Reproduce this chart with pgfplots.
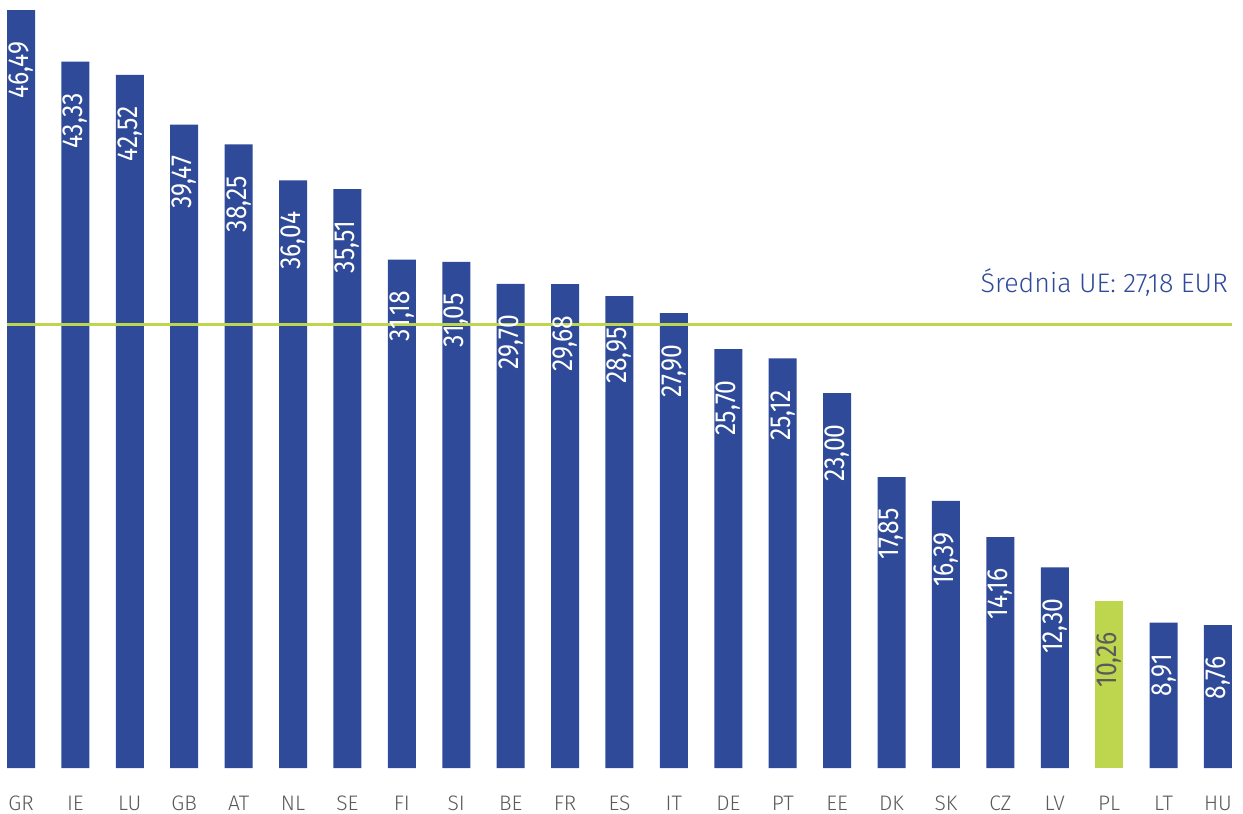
\documentclass[border=0pt]{standalone}
\usepackage{graphicx}
\usepackage{pgfplots}
\pgfplotsset{compat=1.18}
\usepackage{pgfplotstable}
\usepackage{fontspec}
\setmainfont{Fira Sans}[UprightFont=* Light]
\newfontfamily\labelfont{Fira Sans}[FakeStretch=0.85]
\definecolor{barblue}{RGB}{46,74,152}
\definecolor{bargreen}{RGB}{189,214,78}
\definecolor{ticktext}{RGB}{90,90,90}
\pgfplotstableread{
x y
0 46.49
1 43.33
2 42.52
3 39.47
4 38.25
5 36.04
6 35.51
7 31.18
8 31.05
9 29.70
10 29.68
11 28.95
12 27.90
13 25.70
14 25.12
15 23.00
16 17.85
17 16.39
18 14.16
19 12.30
21 8.91
22 8.76
}\bluedata
\pgfplotstableread{
x y
20 10.26
}\greendata
\begin{document}
\begin{tikzpicture}
\begin{axis}[
  scale only axis,
  width=621.5pt, height=384pt,
  xmin=-0.386, xmax=22.46,
  ymin=0, ymax=47.11,
  axis lines=none,
  clip=false,
  xtick=\empty,
  ytick=\empty,
]
\addplot[ybar, bar width=14pt, bar shift=0pt, fill=barblue, draw=none]
  table[x=x, y=y] {\bluedata};
\addplot[ybar, bar width=14pt, bar shift=0pt, fill=bargreen, draw=none]
  table[x=x, y=y] {\greendata};
\addplot[bargreen, line width=1.5pt, forget plot] coordinates {(-0.257,27.18) (22.26,27.18)};
\node[anchor=base east, text=barblue, font=\fontsize{13.4}{15}\selectfont, inner sep=0pt] at (axis cs:22.19,29.14) {Średnia UE: 27,18 EUR};
\foreach \i/\v/\l/\col in {0/46.49/46{,}49/white,1/43.33/43{,}33/white,2/42.52/42{,}52/white,3/39.47/39{,}47/white,4/38.25/38{,}25/white,5/36.04/36{,}04/white,6/35.51/35{,}51/white,7/31.18/31{,}18/white,8/31.05/31{,}05/white,9/29.70/29{,}70/white,10/29.68/29{,}68/white,11/28.95/28{,}95/white,12/27.90/27{,}90/white,13/25.70/25{,}70/white,14/25.12/25{,}12/white,15/23.00/23{,}00/white,16/17.85/17{,}85/white,17/16.39/16{,}39/white,18/14.16/14{,}16/white,19/12.30/12{,}30/white,20/10.26/10{,}26/ticktext,21/8.91/8{,}91/white,22/8.76/8{,}76/white} {
  \pgfmathsetmacro\vv{\v-1.9}
  \edef\tmp{\noexpand\node[anchor=north, text=\col, font=\noexpand\labelfont\noexpand\fontsize{14.5}{15}\noexpand\selectfont, inner sep=0pt] at (axis cs:\i,\vv) {\noexpand\rotatebox{90}{\l}};}
  \tmp
}
\foreach \i/\c in {0/GR,1/IE,2/LU,3/GB,4/AT,5/NL,6/SE,7/FI,8/SI,9/BE,10/FR,11/ES,12/IT,13/DE,14/PT,15/EE,16/DK,17/SK,18/CZ,19/LV,20/PL,21/LT,22/HU} {
  \edef\tmp{\noexpand\node[anchor=base, text=ticktext, font=\noexpand\fontsize{10.5}{12}\noexpand\selectfont, inner sep=0pt] at (axis cs:\i,-2.58) {\c};}
  \tmp
}
\end{axis}
\path[use as bounding box] ([yshift=-23pt]current axis.south west) rectangle (current axis.north east);
\end{tikzpicture}
\end{document}
